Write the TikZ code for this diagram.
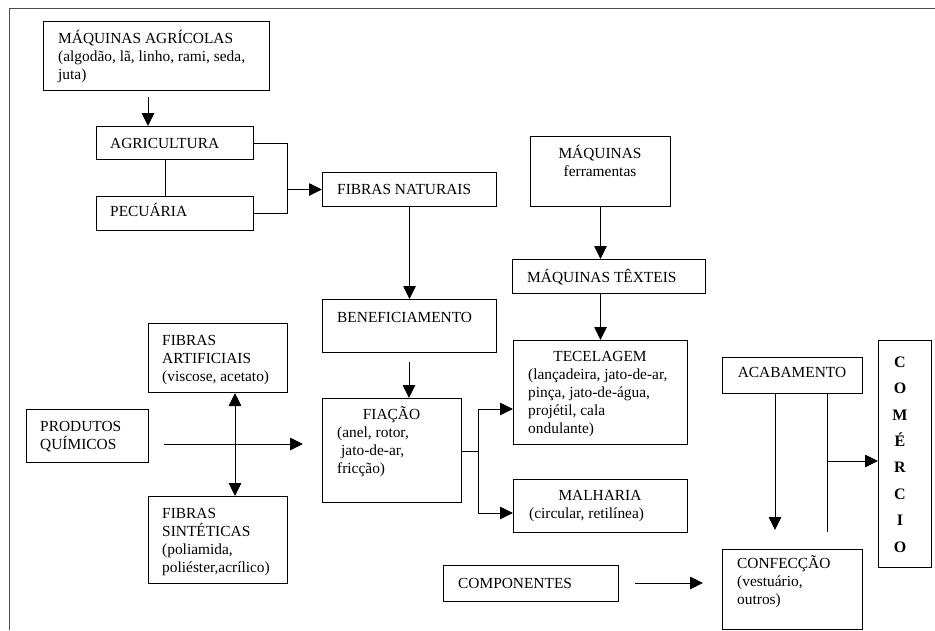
\documentclass[tikz,border=0pt]{standalone}
\usepackage{fontspec}
\setmainfont{Liberation Serif}
\usetikzlibrary{arrows.meta}
\newcommand{\st}{\rule{0pt}{15pt}}
\begin{document}
\begin{tikzpicture}[x=1pt,y=-1pt,
  box/.style={draw=black, line width=1pt, inner sep=0pt, anchor=north west},
  txt/.style={inner sep=0pt, font=\fontsize{15.4}{18}\selectfont, align=left, anchor=north west},
  ctxt/.style={inner sep=0pt, font=\fontsize{15.4}{18}\selectfont, align=center, anchor=north},
  ln/.style={line width=0.9pt},
  arr/.style={line width=0.9pt, -{Triangle[length=13pt,width=12.5pt]}},
  darr/.style={line width=0.9pt, {Triangle[length=13pt,width=12.5pt]}-{Triangle[length=13pt,width=12.5pt]}}]
\useasboundingbox (0,0) rectangle (935,630);
\fill[white] (0,0) rectangle (935,630);
% outer frame
\draw[line width=1pt, black!70] (9,630) -- (9,8) -- (935,8);
% boxes
\node[box, minimum width=226pt, minimum height=69pt] (maqagr) at (43,21) {};
\node[box, minimum width=157pt, minimum height=33pt] (agri) at (96,126) {};
\node[box, minimum width=157pt, minimum height=34pt] (pecu) at (96,196) {};
\node[box, minimum width=174pt, minimum height=34pt] (fibnat) at (322,172) {};
\node[box, minimum width=174pt, minimum height=53pt] (benef) at (322,299) {};
\node[box, minimum width=140pt, minimum height=70pt] (maqfer) at (530,136) {};
\node[box, minimum width=193pt, minimum height=34pt] (maqtex) at (512,259) {};
\node[box, minimum width=174pt, minimum height=104pt] (tecel) at (513,340) {};
\node[box, minimum width=139pt, minimum height=104pt] (fiacao) at (322,398) {};
\node[box, minimum width=174pt, minimum height=53pt] (malh) at (513,479) {};
\node[box, minimum width=175pt, minimum height=36pt] (comp) at (443,565) {};
\node[box, minimum width=140pt, minimum height=36pt] (acab) at (722,357) {};
\node[box, minimum width=53pt, minimum height=227pt] (comerc) at (878,340) {};
\node[box, minimum width=140pt, minimum height=80pt] (confec) at (722,549) {};
\node[box, minimum width=139pt, minimum height=69pt] (fibart) at (148,323) {};
\node[box, minimum width=122pt, minimum height=53pt] (prodq) at (26,409) {};
\node[box, minimum width=139pt, minimum height=87pt] (fibsint) at (148,496) {};
% texts
\node[txt] (maqagr-t) at (58,28) {\st MÁQUINAS AGRÍCOLAS\\(algodão, lã, linho, rami, seda,\\juta)};
\node[txt] (agri-t) at (110,133) {\st AGRICULTURA};
\node[txt] (pecu-t) at (110,201) {\st PECUÁRIA};
\node[txt] (fibnat-t) at (337,179) {\st FIBRAS NATURAIS};
\node[txt] (benef-t) at (337,307) {\st BENEFICIAMENTO};
\node[ctxt] (maqfer-t) at (600,143) {\st MÁQUINAS\\ferramentas};
\node[txt] (maqtex-t) at (527,267) {\st MÁQUINAS TÊXTEIS};
\node[ctxt] (tecel-h) at (600,346) {\st TECELAGEM};
\node[txt] (tecel-t) at (528,364) {\st (lançadeira, jato-de-ar,\\pinça, jato-de-água,\\projétil, cala\\ondulante)};
\node[ctxt] (fiacao-h) at (391.5,404) {\st FIAÇÃO};
\node[txt] (fiacao-t) at (337,422) {\st (anel, rotor,\\\hspace*{4pt}jato-de-ar,\\fricção)};
\node[ctxt] (malh-h) at (600,485) {\st MALHARIA};
\node[txt] (malh-t) at (529,503) {\st (circular, retilínea)};
\node[txt] (comp-t) at (458,573) {\st COMPONENTES};
\node[ctxt] (acab-t) at (792,362) {\st ACABAMENTO};
\node[inner sep=0pt, anchor=north, align=center, font=\fontsize{16}{26.4}\selectfont\bfseries] (comerc-t) at (900,352) {\st C\\O\\M\\É\\R\\C\\I\\O};
\node[txt] (confec-t) at (737,553) {\st CONFECÇÃO\\(vestuário,\\outros)};
\node[txt] (fibart-t) at (162,330) {\st FIBRAS\\ARTIFICIAIS\\(viscose, acetato)};
\node[txt] (prodq-t) at (40,416) {\st PRODUTOS\\QUÍMICOS};
\node[txt] (fibsint-t) at (162,503) {\st FIBRAS\\SINTÉTICAS\\(poliamida,\\poliéster,acrílico)};
% connectors
\coordinate (c1) at (148,97);
\draw[arr] (c1) -- (c1 |- agri.north);
\coordinate (v1) at (165,0);
\draw[ln] (agri.south -| v1) -- (pecu.north -| v1);
\coordinate (j) at (287,0);
\draw[ln] (agri.east) -- (agri.east -| j) -- (pecu.east -| j) -- (pecu.east);
\draw[arr] (fibnat.west -| j) -- (fibnat.west);
\draw[arr] (fibnat.south) -- (benef.north);
\draw[arr] (maqfer.south) -- (maqfer.south |- maqtex.north);
\draw[arr] (maqtex.south -| tecel.north) -- (tecel.north);
\coordinate (b1) at (409,362);
\draw[arr] (b1) -- (b1 |- fiacao.north);
\coordinate (s) at (478,451);
\coordinate (s1) at (478,409);
\coordinate (s2) at (478,513);
\draw[ln] (fiacao.east |- s) -- (s);
\draw[arr] (s) |- (s1 -| tecel.west);
\draw[arr] (s) |- (s2 -| malh.west);
\coordinate (p1) at (164,444);
\coordinate (p2) at (303,444);
\draw[arr] (p1) -- (p2);
\coordinate (d) at (235,0);
\draw[darr] (fibart.south -| d) -- (fibsint.north -| d);
\coordinate (q1) at (635,583);
\coordinate (q2) at (703,583);
\draw[arr] (q1) -- (q2);
\coordinate (a1) at (775,530);
\draw[arr] (acab.south -| a1) -- (a1);
\coordinate (a2) at (827,532);
\draw[ln] (acab.south -| a2) -- (a2);
\coordinate (a3) at (827,461);
\draw[arr] (a3) -- (a3 -| comerc.west);
\end{tikzpicture}
\end{document}
